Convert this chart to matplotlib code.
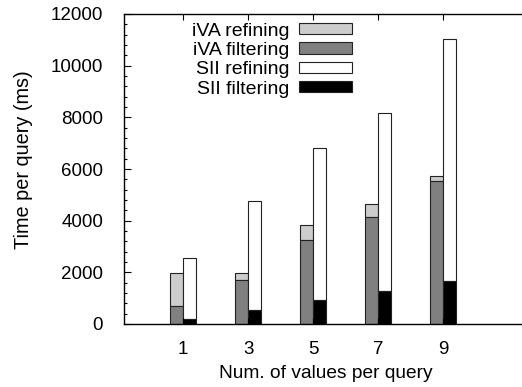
import matplotlib
matplotlib.use("Agg")
import matplotlib.pyplot as plt
from matplotlib.ticker import MultipleLocator
import numpy as np

plt.rcParams['font.family'] = ['Liberation Sans', 'DejaVu Sans']

# Number of values per query
categories = ["1", "3", "5", "7", "9"]

# Time per query (ms), split into filtering and refining phases
iva_filtering = [700, 1700, 3250, 4150, 5520]
iva_refining = [1270, 280, 600, 500, 200]
sii_filtering = [180, 550, 930, 1290, 1665]
sii_refining = [2370, 4200, 5870, 6890, 9365]

W, H = 522, 387
fig = plt.figure(figsize=(W / 100, H / 100), dpi=100)
ax = fig.add_axes([124 / W, (H - 324) / H, (528 - 124) / W, 310 / H])

x = np.arange(len(categories))
bw = 0.205
edge = dict(edgecolor="#222222", linewidth=0.8)

b1 = ax.bar(x - bw / 2, iva_refining, bw, bottom=iva_filtering, color="#cccccc", **edge)
b2 = ax.bar(x - bw / 2, iva_filtering, bw, color="#808080", **edge)
b3 = ax.bar(x + bw / 2, sii_refining, bw, bottom=sii_filtering, color="white", **edge)
b4 = ax.bar(x + bw / 2, sii_filtering, bw, color="black", **edge)

ax.set_xlim(-0.91, 5.31)
ax.set_ylim(0, 12000)
ax.set_xticks(x)
ax.set_xticklabels(categories)
ax.yaxis.set_major_locator(MultipleLocator(2000))
ax.yaxis.set_minor_locator(MultipleLocator(400))

ax.spines['right'].set_visible(False)
for s in ax.spines.values():
    s.set_linewidth(1.0)

ax.tick_params(axis='y', which='major', direction='in', length=5, width=0.8,
               labelsize=13.5, pad=15, right=False)
ax.tick_params(axis='y', which='minor', direction='in', length=2.5, width=0.8, right=False)
ax.tick_params(axis='x', which='major', direction='in', length=4, width=0.8,
               labelsize=13.5, pad=12, top=True, bottom=True)

ax.set_ylabel("Time per query (ms)", fontsize=14.3)
ax.yaxis.set_label_coords((33 - 124) / (528 - 124), (324 - 160) / 310)
ax.set_xlabel("Num. of values per query", fontsize=13.8)
ax.xaxis.set_label_coords((326 - 124) / (528 - 124), -(365 - 324) / 310)

leg = fig.legend([b1, b2, b3, b4],
                 ["iVA refining", "iVA filtering", "SII refining", "SII filtering"],
                 loc="upper right", bbox_to_anchor=(352 / W, 1 - 22.5 / H),
                 frameon=False, markerfirst=False, fontsize=14,
                 handlelength=2.73, handleheight=0.51, handletextpad=0.5,
                 labelspacing=0.12, borderpad=0, borderaxespad=0)

fig.savefig("out.png", dpi=100)
